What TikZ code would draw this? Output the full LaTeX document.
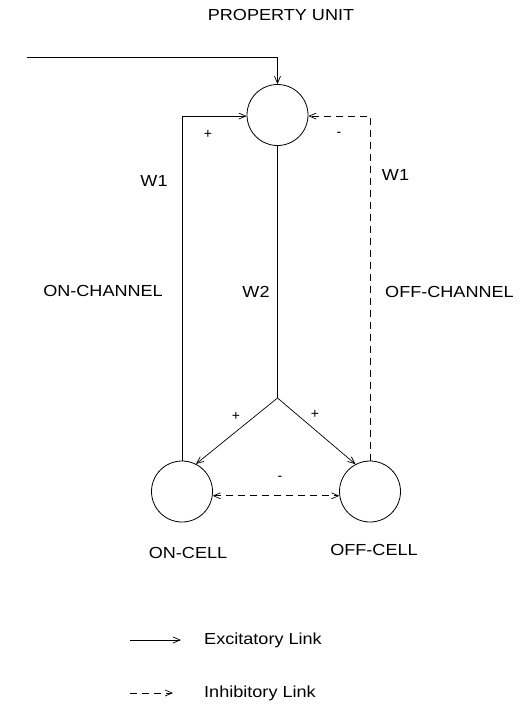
\documentclass[tikz,border=0pt]{standalone}
\usepackage{fontspec}
\setmainfont{Liberation Sans}
\usetikzlibrary{arrows.meta}
\newcommand{\wtxt}[1]{\scalebox{1.13}[1]{#1}}
\begin{document}
\begin{tikzpicture}[x=1pt,y=-1pt,
  unit/.style={draw,circle,minimum size=61pt,inner sep=0pt,line width=0.8pt},
  lbl/.style={inner sep=0pt,font=\fontsize{16}{19}\selectfont},
  sgn/.style={inner sep=0pt,font=\fontsize{14}{16}\selectfont},
  exc/.style={line width=0.7pt,-{Straight Barb[length=7pt,width=6pt]}},
  inh/.style={line width=0.7pt,dash pattern=on 7pt off 5pt,-{Straight Barb[length=7pt,width=6pt]}},
  inhb/.style={line width=0.7pt,dash pattern=on 7pt off 5pt,{Straight Barb[length=7pt,width=6pt]}-{Straight Barb[length=7pt,width=6pt]}}]
\useasboundingbox (0,0) rectangle (521,705);
\fill[white] (0,0) rectangle (521,705);
% units
\node[unit] (top) at (277.5,115) {};
\node[unit] (on) at (182,491.5) {};
\node[unit] (off) at (370,491.5) {};
\coordinate (in) at (27,57);
\coordinate (j) at (277.5,398);
% connectors
\draw[exc] (in) -| (top.north);
\draw[exc] (on.north) |- (top.182);
\draw[inh] (off.north) |- (top.358);
\draw[line width=0.7pt] (top.south) -- (j);
\draw[exc] (j) -- (on.63);
\draw[exc] (j) -- (off.118);
\draw[inhb] (on.-8) -- (off.188);
% labels
\node[lbl] (tp) at (281,15) {\wtxt{PROPERTY UNIT}};
\node[lbl] (w1l) at (154,181) {\wtxt{W1}};
\node[lbl] (w1r) at (395.5,175) {\wtxt{W1}};
\node[lbl,anchor=east] (onch) at (163,291) {\wtxt{ON-CHANNEL}};
\node[lbl] (w2) at (256,292) {\wtxt{W2}};
\node[lbl,anchor=west] (offch) at (385,292) {\wtxt{OFF-CHANNEL}};
\node[lbl] (onc) at (188,553) {\wtxt{ON-CELL}};
\node[lbl] (offc) at (374,550) {\wtxt{OFF-CELL}};
\node[sgn] (p1) at (208,134) {+};
\node[sgn] (m1) at (339,134) {-};
\node[sgn] (p2) at (236,416) {+};
\node[sgn] (p3) at (315,414) {+};
\node[sgn] (m2) at (280,478) {-};
% legend
\coordinate (la) at (130,640);
\coordinate (lb) at (181,640);
\coordinate (lc) at (130,693);
\coordinate (ld) at (173,693);
\draw[exc] (la) -- (lb);
\draw[inh] (lc) -- (ld);
\node[lbl,anchor=west] (ex) at (204,640) {\wtxt{Excitatory Link}};
\node[lbl,anchor=west] (ih) at (204,693) {\wtxt{Inhibitory Link}};
\end{tikzpicture}
\end{document}
